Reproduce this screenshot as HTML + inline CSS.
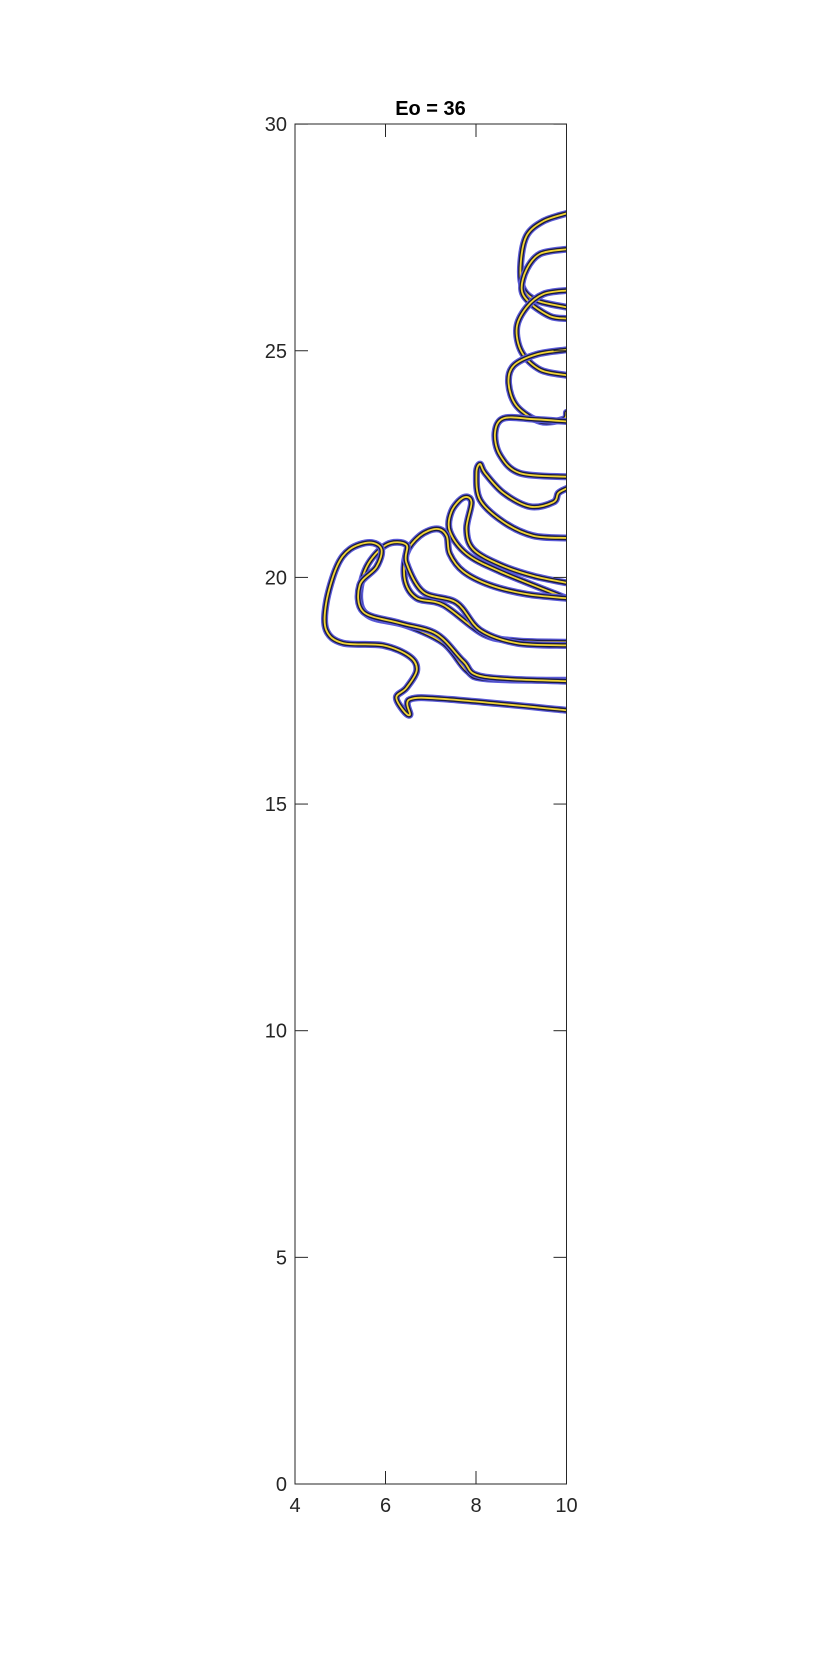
<!DOCTYPE html>
<html><head><meta charset="utf-8"><style>
body{margin:0;background:#fff;}
svg{display:block;font-family:"Liberation Sans",sans-serif;}
</style></head><body>
<svg id="chart" width="833" height="1667" viewBox="0 0 833 1667">
<rect x="0" y="0" width="833" height="1667" fill="#fff"/>
<text x="430.5" y="115" text-anchor="middle" font-size="20" font-weight="bold" fill="#000">Eo = 36</text>
<g id="marks"></g>
<rect x="295" y="124" width="271.5" height="1360" fill="none" stroke="#262626" stroke-width="1"/>
<g id="axes"></g>
</svg>
<script>
const xTicks=[4,6,8,10];
const yTicks=[0,5,10,15,20,25,30];
const c1=[[10,28.03],[9.49,27.86],[9.12,27.54],[8.99,26.95],[9.03,26.40],[9.34,26.11],[10,25.96]];
const c2=[[10,27.24],[9.42,27.14],[9.12,26.8],[9.01,26.35],[9.2,26.05],[9.64,25.76],[10,25.71]];
const c3=[[10,26.33],[9.49,26.25],[9.12,25.96],[8.9,25.51],[9.01,24.97],[9.42,24.58],[10,24.46]];
const c4=[[10,25.02],[9.34,24.92],[8.83,24.67],[8.72,24.28],[8.9,23.78],[9.42,23.44],[9.93,23.49],[10,23.64]];
const c5=[[10,23.44],[9.27,23.49],[8.61,23.51],[8.42,23.19],[8.53,22.7],[8.97,22.3],[10,22.22]];
const c6=[[10,21.96],[9.82,21.86],[9.71,21.66],[9.2,21.56],[8.61,21.86],[8.2,22.3],[8.09,22.5],[8.01,22.3],[8.09,21.71],[8.61,21.22],[9.26,20.92],[10,20.87]];
const c7=[[10,19.88],[9.27,20.03],[8.53,20.28],[7.94,20.62],[7.79,21.07],[7.9,21.66],[7.72,21.76],[7.46,21.46],[7.42,21.02],[7.79,20.52],[8.53,20.13],[10,19.54]];
const c8=[[10,19.54],[9.12,19.63],[8.31,19.83],[7.72,20.13],[7.42,20.52],[7.35,20.92],[7.13,21.07],[6.76,20.92],[6.46,20.52],[6.43,19.93],[6.69,19.54],[7.28,19.39],[8.16,18.75],[8.9,18.6],[10,18.57]];
const c9=[[10,18.5],[8.9,18.55],[8.09,18.84],[7.57,19.44],[6.83,19.68],[6.46,20.33],[6.46,20.72],[6.02,20.72],[5.58,20.23],[5.43,19.54],[5.65,19.14],[6.46,18.94],[7.28,18.55],[7.79,17.95],[8.24,17.76],[10,17.73]];
const c10=[[10,17.71],[8.16,17.81],[7.72,18.15],[7.13,18.75],[6.32,18.99],[5.51,19.24],[5.43,19.83],[5.8,20.23],[5.91,20.62],[5.65,20.77],[5.21,20.62],[4.92,20.23],[4.69,19.44],[4.69,18.84],[5.06,18.55],[5.95,18.5],[6.54,18.25],[6.69,17.95],[6.46,17.56],[6.24,17.36],[6.39,17.07],[6.54,16.97],[6.54,17.31],[7.42,17.31],[10,17.07]];
const contours=[c1,c2,c3,c4,c5,c6,c7,c8,c9,c10];
const X=d=>295+(d-4)*45.25, Y=d=>1484-d*45.33;
const NS="http://www.w3.org/2000/svg";
function pathD(pts){
  const p=pts.map(q=>[X(q[0]),Y(q[1])]);
  let d=`M${p[0][0]},${p[0][1]}`;
  for(let i=0;i<p.length-1;i++){
    const p0=p[i-1]||p[i],p1=p[i],p2=p[i+1],p3=p[i+2]||p2;
    const a=[p1[0]+(p2[0]-p0[0])/6,p1[1]+(p2[1]-p0[1])/6];
    const b=[p2[0]-(p3[0]-p1[0])/6,p2[1]-(p3[1]-p1[1])/6];
    d+=`C${a[0]},${a[1]} ${b[0]},${b[1]} ${p2[0]},${p2[1]}`;
  }
  return d;
}
const g=document.getElementById('marks');
const layers=[["#5a5ad8",7],["#1a1a40",4.5],["#f2d533",1.8]];
contours.forEach((c,i)=>{
  const grp=document.createElementNS(NS,'g');
  
  
  layers.forEach(l=>{
    const pa=document.createElementNS(NS,'path');
    pa.setAttribute('d',pathD(c));
    pa.setAttribute('fill','none');
    pa.setAttribute('stroke',l[0]);
    pa.setAttribute('stroke-width',l[1]);
    pa.setAttribute('stroke-linejoin','round');
    pa.setAttribute('stroke-linecap','round');
    grp.appendChild(pa);
  });
  g.appendChild(grp);
});
const cover=document.createElementNS(NS,'rect');
cover.setAttribute('x',567);cover.setAttribute('y',0);cover.setAttribute('width',266);cover.setAttribute('height',1667);cover.setAttribute('fill','#fff');
g.appendChild(cover);
const ax=document.getElementById('axes');
function line(x1,y1,x2,y2,name){
  const l=document.createElementNS(NS,'line');
  l.setAttribute('x1',x1);l.setAttribute('y1',y1);l.setAttribute('x2',x2);l.setAttribute('y2',y2);
  l.setAttribute('stroke','#262626');l.setAttribute('stroke-width',1);
  
  
  ax.appendChild(l);
}
function text(x,y,s,anchor,name){
  const t=document.createElementNS(NS,'text');
  t.setAttribute('x',x);t.setAttribute('y',y);t.setAttribute('text-anchor',anchor);
  t.setAttribute('font-size',20);t.setAttribute('fill','#262626');
  t.textContent=s;
  
  
  ax.appendChild(t);
}
xTicks.forEach(v=>{
  line(X(v),1484,X(v),1471,'x-tick');
  line(X(v),124,X(v),137,'x-tick-top');
  text(X(v),1512,String(v),'middle','x-tick-label');
});
yTicks.forEach(v=>{
  line(295,Y(v),308,Y(v),'y-tick');
  line(566.5,Y(v),553.5,Y(v),'y-tick-right');
  text(287,Y(v)+7,String(v),'end','y-tick-label');
});
</script>
</body></html>
